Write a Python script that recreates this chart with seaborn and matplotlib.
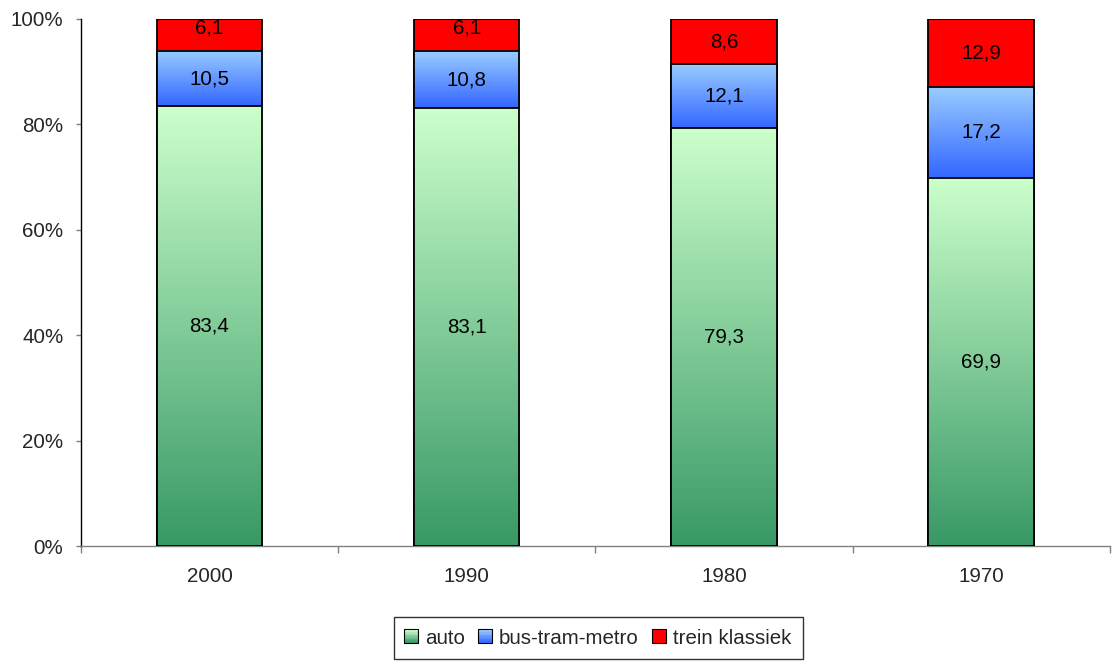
import numpy as np
import pandas as pd
import matplotlib
matplotlib.use("Agg")
import matplotlib.pyplot as plt
import seaborn as sns
from matplotlib.patches import Rectangle
from matplotlib.legend_handler import HandlerBase
from matplotlib.colors import to_rgb
from matplotlib.transforms import offset_copy

# Modal split per year (percent of trips)
years = ["2000", "1990", "1980", "1970"]
auto = [83.4, 83.1, 79.3, 69.9]
bus_tram_metro = [10.5, 10.8, 12.1, 17.2]
trein_klassiek = [6.1, 6.1, 8.6, 12.9]
series_names = ["auto", "bus-tram-metro", "trein klassiek"]
y_ticks = [0, 20, 40, 60, 80, 100]

# gradient end colours (bottom, top) per series
grad_auto = ("#389966", "#CCFFCC")
grad_bus = ("#3366FF", "#99CCFF")
red = "#FF0000"

FS = 14.8

sns.set_style("white")
plt.rcParams["font.family"] = ["Liberation Sans", "DejaVu Sans"]

df = pd.DataFrame({
    "year": years,
    "auto": auto,
    "bus": bus_tram_metro,
    "trein": trein_klassiek,
})
df["c_auto"] = df["auto"]
df["c_bus"] = df["auto"] + df["bus"]
df["c_trein"] = df["c_bus"] + df["trein"]

fig = plt.figure(figsize=(11.12, 6.62), dpi=100)
ax = fig.add_axes([0.0728, 0.1752, 0.9252, 0.7961])

bar_w = 0.41


def gradient(c0, c1, n=256):
    a = np.array(to_rgb(c0))
    b = np.array(to_rgb(c1))
    t = np.linspace(0, 1, n)[:, None]
    return (a + (b - a) * t)[:, None, :]


# trein klassiek: full stack height, solid red
sns.barplot(data=df, x="year", y="c_trein", order=years, color=red,
            width=bar_w, edgecolor="black", linewidth=1.3, saturation=1,
            ax=ax, zorder=1)
n0 = len(ax.patches)
# bus-tram-metro outline
sns.barplot(data=df, x="year", y="c_bus", order=years, color="white",
            width=bar_w, edgecolor="black", linewidth=1.3, saturation=1,
            ax=ax, zorder=2.5)
bus_patches = ax.patches[n0:]
n1 = len(ax.patches)
# auto outline
sns.barplot(data=df, x="year", y="c_auto", order=years, color="white",
            width=bar_w, edgecolor="black", linewidth=1.3, saturation=1,
            ax=ax, zorder=3.5)
auto_patches = ax.patches[n1:]

for p in bus_patches + auto_patches:
    p.set_facecolor("none")

# gradient fills for the segments
for i, p in enumerate(bus_patches):
    x0 = p.get_x()
    x1 = x0 + p.get_width()
    ax.imshow(gradient(*grad_bus), extent=[x0, x1, df["c_auto"][i], df["c_bus"][i]],
              origin="lower", aspect="auto", zorder=2, interpolation="bilinear")
for i, p in enumerate(auto_patches):
    x0 = p.get_x()
    x1 = x0 + p.get_width()
    ax.imshow(gradient(*grad_auto), extent=[x0, x1, 0, df["c_auto"][i]],
              origin="lower", aspect="auto", zorder=3, interpolation="bilinear")

# segment value labels
lab_tr = offset_copy(ax.transData, fig=fig, x=0, y=1.5, units="points")
for i in range(len(years)):
    segs = [(0, auto[i]), (df["c_auto"][i], bus_tram_metro[i]),
            (df["c_bus"][i], trein_klassiek[i])]
    for base, v in segs:
        yc = base + v / 2
        if base + v >= 99.9 and v < 7:
            yc = 98.3
        ax.text(i, yc, f"{v:.1f}".replace(".", ","), ha="center",
                va="center_baseline", fontsize=FS, color="black", zorder=5,
                transform=lab_tr)

ax.set_xlim(-0.5, 3.5)
ax.set_ylim(0, 100)
ax.set_yticks(y_ticks)
ax.set_yticklabels([f"{t}%" for t in y_ticks], fontsize=FS)
ax.set_xticks(range(len(years)))
ax.set_xticklabels(years, fontsize=FS)
ax.set_xticks(np.arange(-0.5, len(years), 1.0), minor=True)
ax.tick_params(axis="x", which="major", length=0, pad=15)
ax.tick_params(axis="x", which="minor", length=5, width=1, color="#808080",
               direction="out", bottom=True)
ax.tick_params(axis="y", length=3.6, width=1, color="#808080", direction="out",
               left=True, pad=9)
ax.set_xlabel("")
ax.set_ylabel("")
for s in ["top", "right"]:
    ax.spines[s].set_visible(False)
ax.spines["left"].set_color("black")
ax.spines["left"].set_linewidth(1)
ax.spines["bottom"].set_color("#808080")
ax.spines["bottom"].set_linewidth(1)


class GradientBox(HandlerBase):
    def __init__(self, c0, c1, steps=10):
        super().__init__()
        self.c0, self.c1, self.steps = c0, c1, steps

    def create_artists(self, legend, orig_handle, xdescent, ydescent, width,
                       height, fontsize, trans):
        side = height
        x0 = -xdescent + (width - side)
        y0 = -ydescent
        arts = []
        a = np.array(to_rgb(self.c0))
        b = np.array(to_rgb(self.c1))
        h = side / self.steps
        for k in range(self.steps):
            c = a + (b - a) * (k / (self.steps - 1))
            arts.append(Rectangle((x0, y0 + k * h), side, h * 1.05, facecolor=c,
                                  edgecolor="none", transform=trans))
        arts.append(Rectangle((x0, y0), side, side, facecolor="none",
                              edgecolor="black", linewidth=0.8, transform=trans))
        return arts


h_auto = Rectangle((0, 0), 1, 1)
h_bus = Rectangle((0, 0), 1, 1)
h_trein = Rectangle((0, 0), 1, 1, facecolor=red, edgecolor="black", linewidth=0.8)
leg = fig.legend([h_auto, h_bus, h_trein], series_names, ncol=3,
                 loc="center", bbox_to_anchor=(598 / 1112, 1 - 638 / 662),
                 fontsize=FS, frameon=True, fancybox=False, edgecolor="black",
                 handlelength=0.65, handleheight=0.65, handletextpad=0.35,
                 columnspacing=0.65, borderpad=0.55, borderaxespad=0,
                 handler_map={h_auto: GradientBox(*grad_auto),
                              h_bus: GradientBox(*grad_bus)})
leg.get_frame().set_linewidth(1)

fig.savefig("out.png", dpi=100)
